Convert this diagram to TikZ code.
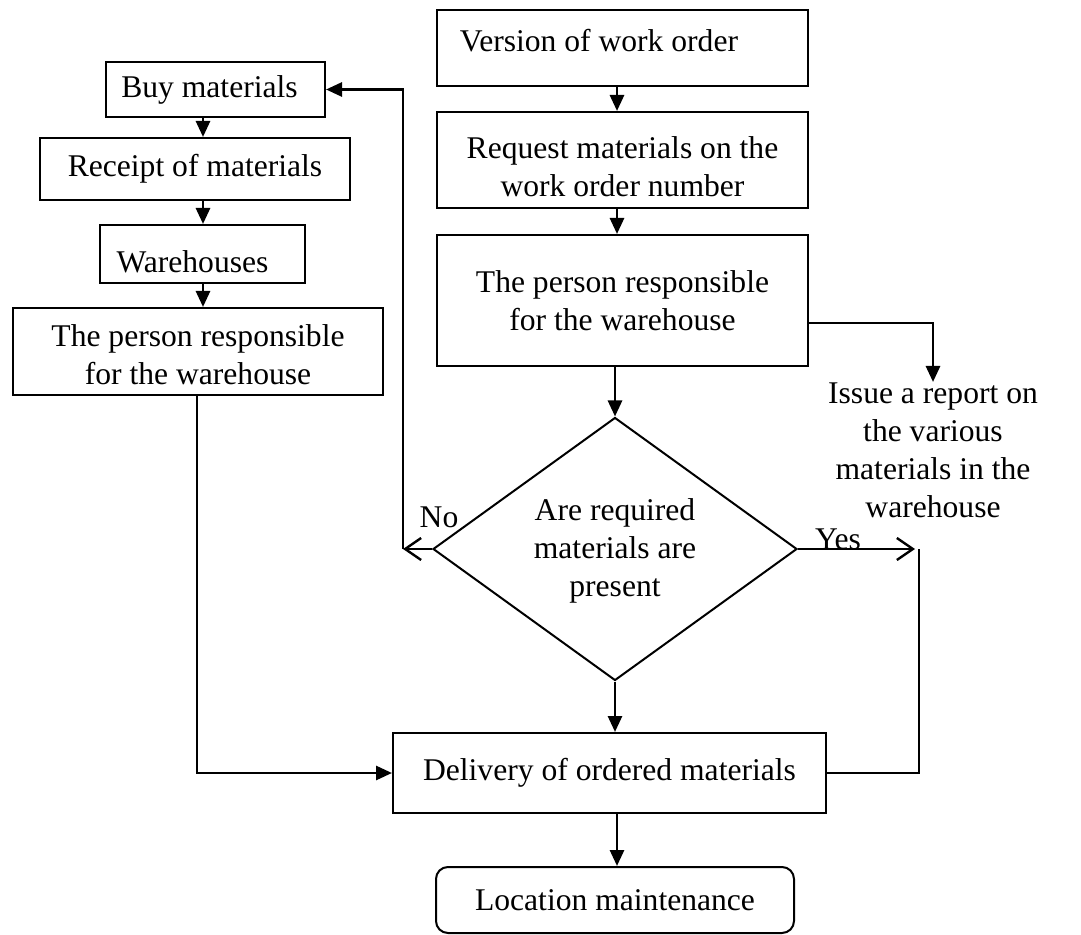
\documentclass[tikz,border=0pt]{standalone}
\usepackage{fontspec}
\setmainfont{Liberation Serif}
\usetikzlibrary{shapes.geometric,arrows.meta}
% move text vertically inside its box without changing the box's extents
\newcommand\liftby[2]{\raisebox{#1}[\height][\depth]{#2}}
\newcommand\twolines[2]{\begin{tabular}{@{}c@{}}#1\\#2\end{tabular}}
\begin{document}
\begin{tikzpicture}[x=0.5pt,y=-0.5pt,
  every node/.style={font=\fontsize{15.8}{19}\selectfont},
  box/.style={draw,line width=1pt,inner sep=0pt,align=center},
  decision/.style={draw,diamond,line width=1pt,inner sep=0pt,align=center},
  flow/.style={line width=1.4pt,-{Triangle[length=8pt,width=7pt]}},
  branch/.style={line width=1.4pt,-{Straight Barb[length=8pt,width=11pt,line width=1.2pt]}},
  plain/.style={line width=1.4pt}]
\useasboundingbox (0,0) rectangle (1081,935);

% left column: purchasing path
\node[box,minimum width=109.5pt,minimum height=27.5pt] (buy) at (215.5,89.5) {Buy materials\hspace{6pt}};
\node[box,minimum width=155pt,minimum height=31pt] (receipt) at (195,169) {Receipt of materials};
\node[box,minimum width=102.5pt,minimum height=29pt] (warehouses) at (202.5,254) {\liftby{-4pt}{Warehouses}\hspace{10pt}};
\node[box,minimum width=185pt,minimum height=43.5pt] (person1) at (198,351.5) {\liftby{-3pt}{\twolines{The person responsible}{for the warehouse}}};

% right column: work order path
\node[box,minimum width=185.5pt,minimum height=38pt] (version) at (622.5,48) {\raisebox{8pt}{Version of work order}\hspace{23.5pt}};
\node[box,minimum width=185.5pt,minimum height=48pt] (request) at (622.5,160) {\liftby{-5pt}{\twolines{Request materials on the}{work order number}}};
\node[box,minimum width=185.5pt,minimum height=65.5pt] (person2) at (622.5,300.5) {The person responsible\\for the warehouse};
\node[decision,minimum width=182pt,minimum height=131.5pt] (decide) at (615,549) {\raisebox{-4.5pt}[0pt][0pt]{\begin{tabular}{@{}c@{}}Are required\\materials are\\present\end{tabular}}};
\node[box,minimum width=216.5pt,minimum height=40pt] (delivery) at (609.5,773) {Delivery of ordered materials};
\node[box,rounded corners=6pt,minimum width=179pt,minimum height=33pt] (location) at (615,900) {Location maintenance};

\node[align=center,anchor=north,inner sep=0pt] (report) at (933,382) {Issue a report on\\the various\\materials in the\\warehouse};

\node (nolabel) at (439,517) {No};
\node (yeslabel) at (838,539) {Yes};

% helper positions for connector lines
\coordinate (lc) at (203,0);
\coordinate (rc) at (617,0);
\coordinate (ry) at (0,323);
\coordinate (noc) at (403,549);
\coordinate (yesc) at (915,549);
\coordinate (yv) at (919,549);
\coordinate (lx) at (197,0);

% connectors
\draw[flow] (buy.south -| lc) -- (receipt.north -| lc);
\draw[flow] (receipt.south -| lc) -- (warehouses.north -| lc);
\draw[flow] (warehouses.south -| lc) -- (person1.north -| lc);
\draw[flow] (version.south -| rc) -- (request.north -| rc);
\draw[flow] (request.south -| rc) -- (person2.north -| rc);
\draw[flow] (person2.south -| decide.north) -- (decide.north);
\draw[flow] (person2.east |- ry) -| (report.north);
\draw[branch] (decide.west) -- (noc);
\draw[flow] (noc) |- (buy.east);
\draw[branch] (decide.east) -- (yesc);
\draw[plain] (yv) |- (delivery.east);
\draw[flow] (person1.south -| lx) |- (delivery.west);
\draw[flow] (decide.south) -- (delivery.north -| decide.south);
\draw[flow] (delivery.south -| rc) -- (location.north -| rc);
\end{tikzpicture}
\end{document}
